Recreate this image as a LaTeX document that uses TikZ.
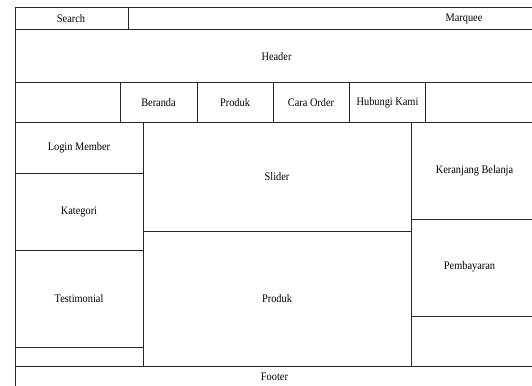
\documentclass[tikz,border=0pt]{standalone}
\usepackage{fontspec}
\setmainfont{Liberation Serif}
\newcommand{\cond}[1]{\scalebox{0.9}[1]{#1}}
\begin{document}
\begin{tikzpicture}[x=1pt,y=-1pt,
  grid/.style={line width=1pt,draw=black!85},
  lbl/.style={inner sep=0pt,font=\fontsize{11.5}{13}\selectfont}]
\useasboundingbox (0,0) rectangle (532,385);
\clip (0,0) rectangle (532,385);
\fill[white] (0,0) rectangle (532,385);
% outer frame and full-width rows
\draw[grid] (15,8) rectangle (540,392);
\draw[grid] (15,30) -- (540,30);
\draw[grid] (15,83) -- (540,83);
\draw[grid] (15,122) -- (540,122);
\draw[grid] (15,366) -- (540,366);
% top row divider
\draw[grid] (128,8) -- (128,30);
% nav dividers
\foreach \xx in {120,197,273,349,425} \draw[grid] (\xx,83) -- (\xx,122);
% columns
\draw[grid] (143,122) -- (143,366);
\draw[grid] (411,122) -- (411,366);
% left column rows
\draw[grid] (15,173) -- (143,173);
\draw[grid] (15,250) -- (143,250);
\draw[grid] (15,347) -- (143,347);
% middle
\draw[grid] (143,231) -- (411,231);
% right column rows
\draw[grid] (411,219) -- (540,219);
\draw[grid] (411,316) -- (540,316);
% labels
\node[lbl] (search) at (71,18.5) {\cond{Search}};
\node[lbl] (marquee) at (464,18.5) {\cond{Marquee}};
\node[lbl] (header) at (276.5,57) {\cond{Header}};
\node[lbl] (beranda) at (158.5,102.5) {\cond{Beranda}};
\node[lbl] (produknav) at (235,102.5) {\cond{Produk}};
\node[lbl] (cara) at (311,102.5) {\cond{Cara Order}};
\node[lbl] (hubungi) at (387.5,102.5) {\cond{Hubungi Kami}};
\node[lbl] (login) at (79,148) {\cond{Login Member}};
\node[lbl] (kategori) at (79,211.5) {\cond{Kategori}};
\node[lbl] (testi) at (79,299) {\cond{Testimonial}};
\node[lbl] (slider) at (277,177) {\cond{Slider}};
\node[lbl] (produk) at (277,299) {\cond{Produk}};
\node[lbl] (keranjang) at (474.5,171) {\cond{Keranjang Belanja}};
\node[lbl] (bayar) at (469.5,267) {\cond{Pembayaran}};
\node[lbl] (footer) at (274.5,377) {\cond{Footer}};
\end{tikzpicture}
\end{document}
